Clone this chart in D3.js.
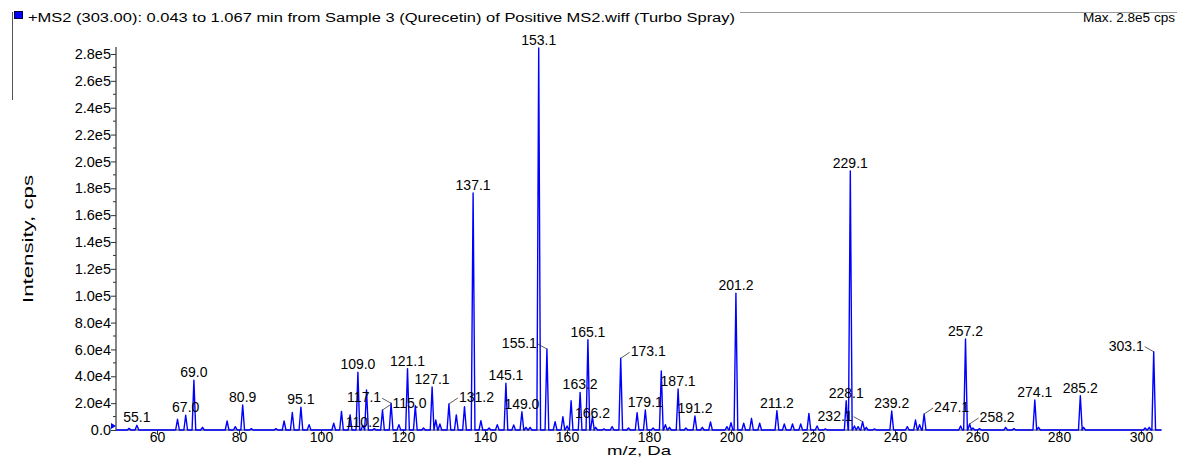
<!DOCTYPE html>
<html>
<head>
<meta charset="utf-8">
<script src="https://cdn.jsdelivr.net/npm/d3@7"></script>
<style>
body { margin: 0; background: #fff; }
svg { display: block; font-family: "Liberation Sans", Arial, sans-serif; }
</style>
</head>
<body>
<svg id="chart" width="1177" height="457"></svg>
<script>
// Peaks: m/z and intensity (cps)
const peakMz = [
    53.2, 55.1, 65.0, 67.0, 69.0, 71.1, 77.1, 79.1, 80.9, 83.0, 89.0, 91.0, 93.0, 95.1, 97.1,
    103.1, 105.0, 107.1, 109.0, 110.2, 111.1, 113.0, 115.0, 117.1, 119.0, 121.1, 123.0, 125.0,
    127.1, 128.0, 129.0, 131.2, 133.0, 135.0, 137.1, 139.0, 141.0, 143.0, 145.1, 147.0, 149.0,
    150.0, 151.0, 153.1, 155.1, 157.1, 159.0, 160.0, 161.0, 163.2, 165.1, 166.2, 167.0, 169.0,
    171.0, 173.1, 175.0, 177.1, 179.1, 181.0, 183.0, 184.0, 185.0, 187.1, 189.0, 191.2, 193.0,
    195.0, 199.0, 200.0, 201.2, 203.1, 205.0, 207.0, 211.2, 213.0, 215.0, 217.0, 219.0, 221.0,
    223.0, 228.1, 229.1, 230.1, 231.0, 232.1, 233.0, 235.0, 239.2, 243.0, 245.0, 246.0, 247.1,
    256.0, 257.2, 258.2, 259.0, 260.6, 267.0, 269.0, 274.1, 275.0, 285.2, 286.0, 301.0, 302.0,
    303.1
];
const peakIntensity = [
    1200, 3500, 8000, 11000, 37000, 2000, 6700, 2500, 18600, 1000, 1000, 6700, 13000, 17000, 4000,
    5000, 13900, 11300, 43000, 3500, 29800, 1000, 14900, 19900, 4000, 45700, 18100, 1500,
    32000, 7400, 4500, 19400, 11200, 17400, 176500, 7000, 1500, 4000, 34800, 3700, 13600,
    2000, 2000, 284500, 60300, 6200, 9900, 3000, 21800, 28000, 67300, 10000, 2000, 800,
    2500, 53400, 1500, 12900, 14900, 1500, 44000, 4000, 2000, 30500, 1500, 10400, 2000,
    6000, 2500, 5500, 101800, 5000, 8700, 5000, 14400, 4500, 4500, 4500, 12400, 3000,
    800, 21800, 193000, 3000, 2500, 6200, 2000, 800, 14100, 2500, 7400, 4000, 11900,
    3000, 67800, 4500, 1500, 1000, 2000, 1000, 22300, 2000, 25600, 2000, 1500, 2000,
    58300
];

// Annotated peaks
const labelMz = [
    55.1, 67.0, 69.0, 80.9, 95.1, 109.0, 110.2, 117.1, 115.0, 121.1, 127.1, 131.2, 137.1,
    145.1, 149.0, 153.1, 155.1, 163.2, 165.1, 166.2, 173.1, 179.1, 187.1, 191.2, 201.2,
    211.2, 228.1, 229.1, 232.1, 239.2, 247.1, 257.2, 258.2, 274.1, 285.2, 303.1
];

const yTickValues = d3.range(0, 280001, 20000);
const yMinorValues = d3.range(10000, 280001, 20000);
const xTickValues = d3.range(60, 301, 20);

const titleText = '+MS2 (303.00): 0.043 to 1.067 min from Sample 3 (Qurecetin) of Positive MS2.wiff (Turbo Spray)';
const maxText = 'Max. 2.8e5 cps';

// Labels that sit beside their peak with a leader line, or shifted
const labelLayout = {
    '110.2': { dy: 5 },
    '166.2': { dy: 4 },
    '117.1': { side: 'left' },
    '155.1': { side: 'left' },
    '232.1': { side: 'left' },
    '303.1': { side: 'left' },
    '115.0': { side: 'right' },
    '131.2': { side: 'right' },
    '173.1': { side: 'right' },
    '247.1': { side: 'right' },
    '258.2': { side: 'right' }
};

const svg = d3.select('#chart');

const x = d3.scaleLinear().domain([50, 305]).range([116, 1161.5]);
const y = d3.scaleLinear().domain([0, 280000]).range([430, 54]);

// Header
svg.append('line')
    .attr('x1', 12.5).attr('x2', 12.5).attr('y1', 12).attr('y2', 100)
    .attr('stroke', '#555').attr('stroke-width', 1);
svg.append('line')
    .attr('x1', 740).attr('x2', 1177).attr('y1', 12.5).attr('y2', 12.5)
    .attr('stroke', '#999').attr('stroke-width', 1);
svg.append('rect')
    .attr('x', 14.5).attr('y', 11.5).attr('width', 8).attr('height', 7)
    .attr('fill', '#0000ff').attr('stroke', '#000033').attr('stroke-width', 1);
svg.append('text')
    .attr('x', 28).attr('y', 22)
    .attr('font-size', 12)
    .attr('textLength', 707).attr('lengthAdjust', 'spacingAndGlyphs')
    .text(titleText);
svg.append('text')
    .attr('x', 1083).attr('y', 22)
    .attr('font-size', 12)
    .attr('textLength', 92).attr('lengthAdjust', 'spacingAndGlyphs')
    .text(maxText);

// Y axis
const yAxis = svg.append('g').attr('transform', 'translate(116,0)');
yAxis.call(d3.axisLeft(y).tickValues(yTickValues).tickSize(5)
    .tickFormat(d => d === 0 ? '0.0' : d3.format('.1e')(d).replace('+', '')));
yAxis.select('.domain').remove();
yAxis.selectAll('.tick line').attr('stroke', '#333');
yAxis.selectAll('.tick text')
    .attr('font-size', 14.5).attr('fill', '#000')
    .attr('font-family', '"Liberation Sans", Arial, sans-serif')
    .attr('x', -5);
yAxis.selectAll('.minor').data(yMinorValues).enter().append('line')
    .attr('x1', -3).attr('x2', 0)
    .attr('y1', d => y(d)).attr('y2', d => y(d))
    .attr('stroke', '#333');
yAxis.append('line')
    .attr('x1', 0).attr('x2', 0).attr('y1', 47).attr('y2', 430)
    .attr('stroke', '#333').attr('stroke-width', 1.2);

// X axis
const xAxis = svg.append('g').attr('transform', 'translate(0,430)');
xAxis.call(d3.axisBottom(x).tickValues(xTickValues).tickSize(5).tickFormat(d3.format('d')));
xAxis.select('.domain').remove();
xAxis.selectAll('.tick line').attr('stroke', '#333');
xAxis.selectAll('.tick text')
    .attr('font-size', 14).attr('fill', '#000')
    .attr('font-family', '"Liberation Sans", Arial, sans-serif')
    .attr('y', 2);
xAxis.append('line')
    .attr('x1', 116).attr('x2', 1161.5).attr('y1', 0).attr('y2', 0)
    .attr('stroke', '#333').attr('stroke-width', 1.2);

// Axis titles
svg.append('text')
    .attr('x', 639).attr('y', 455)
    .attr('text-anchor', 'middle').attr('font-size', 13)
    .attr('textLength', 64).attr('lengthAdjust', 'spacingAndGlyphs')
    .text('m/z, Da');
svg.append('text')
    .attr('transform', 'translate(33,239) rotate(-90)')
    .attr('text-anchor', 'middle').attr('font-size', 14)
    .attr('textLength', 128).attr('lengthAdjust', 'spacingAndGlyphs')
    .text('Intensity, cps');

// Spectrum trace: each peak drawn as a narrow spike on the baseline
const halfWidth = 0.45;
const order = d3.range(peakMz.length).sort((a, b) => peakMz[a] - peakMz[b]);
const trace = [{ mz: x.domain()[0], v: 0 }];
order.forEach(i => {
    trace.push({ mz: peakMz[i] - halfWidth, v: 0 });
    trace.push({ mz: peakMz[i], v: peakIntensity[i] });
    trace.push({ mz: peakMz[i] + halfWidth, v: 0 });
});
trace.push({ mz: x.domain()[1], v: 0 });

const line = d3.line().x(d => x(d.mz)).y(d => y(d.v));
svg.append('path')
    .datum(trace)
    .attr('d', line)
    .attr('fill', 'none')
    .attr('stroke', '#0000ff')
    .attr('stroke-width', 1.4)
    .attr('stroke-linejoin', 'round');

// Threshold marker at origin
svg.append('path')
    .attr('d', `M${x.range()[0] - 5},${y(0) - 7}L${x.range()[0]},${y(0) - 4}L${x.range()[0] - 5},${y(0) - 1}Z`)
    .attr('fill', '#0000ff');

// Peak labels
const labels = svg.append('g').attr('font-size', 14).attr('fill', '#000');
labelMz.forEach(mz => {
    const idx = peakMz.indexOf(mz);
    const ax = x(mz);
    const ay = y(peakIntensity[idx]);
    const txt = mz.toFixed(1);
    const lay = labelLayout[txt] || {};
    if (lay.side === 'left') {
        labels.append('text')
            .attr('x', ax - 10).attr('y', ay - 1)
            .attr('text-anchor', 'end').text(txt);
        labels.append('line')
            .attr('x1', ax - 9).attr('y1', ay - 5).attr('x2', ax).attr('y2', ay)
            .attr('stroke', '#333').attr('stroke-width', 0.8);
    } else if (lay.side === 'right') {
        labels.append('text')
            .attr('x', ax + 10).attr('y', ay - 2)
            .attr('text-anchor', 'start').text(txt);
        labels.append('line')
            .attr('x1', ax).attr('y1', ay).attr('x2', ax + 9).attr('y2', ay - 6)
            .attr('stroke', '#333').attr('stroke-width', 0.8);
    } else {
        labels.append('text')
            .attr('x', ax).attr('y', ay - 3 + (lay.dy || 0))
            .attr('text-anchor', 'middle').text(txt);
    }
});
</script>
</body>
</html>
